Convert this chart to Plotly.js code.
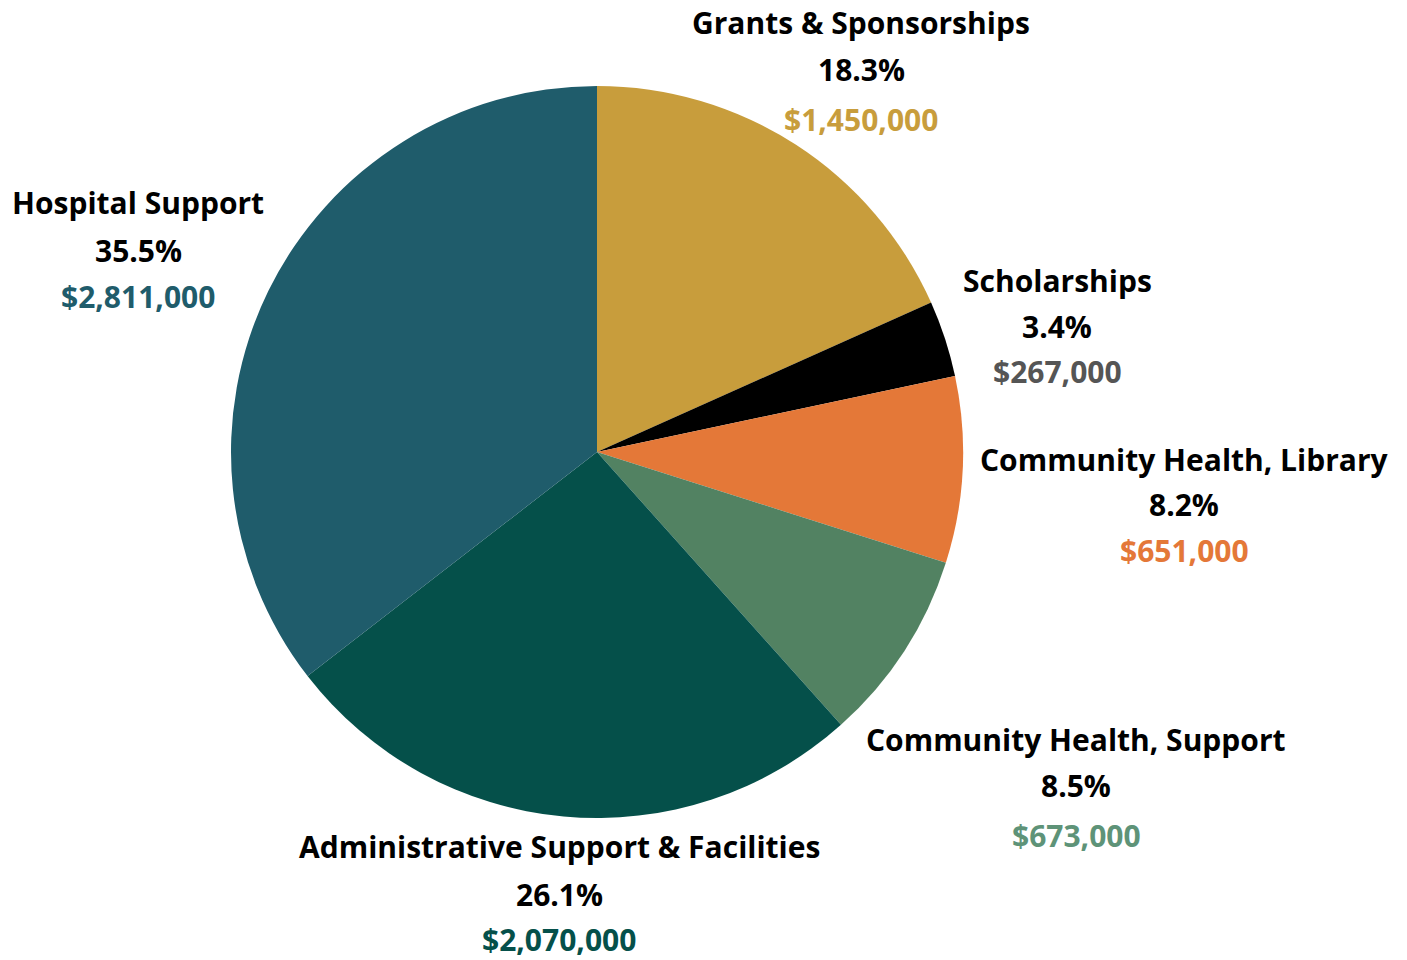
<!DOCTYPE html>
<html><head><meta charset="utf-8">
<script src="https://cdn.plot.ly/plotly-3.0.1.min.js"></script>
<style>html,body{margin:0;padding:0;background:#fff}#chart{width:1407px;height:960px}</style>
</head><body><div id="chart"></div>
<script>
const categories = ["Grants & Sponsorships","Scholarships","Community Health, Library","Community Health, Support","Administrative Support & Facilities","Hospital Support"];
const amounts = [1450000, 267000, 651000, 673000, 2070000, 2811000];
const sliceColors = ["#C89D3C","#000000","#E47838","#528262","#05504A","#1F5C6B"];
const amountColors = ["#C89D3C","#555555","#E47838","#5E9378","#05504A","#1F5C6B"];
// label block centers (pixels) — layout only
const labelPos = [[861,22],[1057,280],[1184,459],[1076,739],[559,846],[138,203]];
const lineGaps = [[0,48,97],[0,46,92],[0,45,91],[0,46,96],[0,48,93],[0,47,93]];

const W = 1407, H = 960;
const total = amounts.reduce((a,b)=>a+b,0);
const fmt = v => "$" + v.toLocaleString("en-US");
const annotations = [];
const font = {family:"'Open Sans', Lato, sans-serif", size:30, weight:700};
categories.forEach((c,i)=>{
  const [px,py] = labelPos[i];
  const lines = [
    {t:c, col:"#000000"},
    {t:(amounts[i]/total*100).toFixed(1)+"%", col:"#000000"},
    {t:fmt(amounts[i]), col:amountColors[i]}
  ];
  lines.forEach((l,j)=>{
    annotations.push({x:px/W, y:1-(py+lineGaps[i][j])/H, xref:"paper", yref:"paper",
      text:l.t, showarrow:false, xanchor:"center", yanchor:"middle",
      font:Object.assign({}, font, {color:l.col})});
  });
});

const trace = {
  type:"pie", labels:categories, values:amounts, sort:false, direction:"clockwise", rotation:0,
  marker:{colors:sliceColors, line:{width:0}}, textinfo:"none", hoverinfo:"label+value+percent",
  domain:{x:[(597-366)/W,(597+366)/W], y:[1-818/H,1-86/H]}
};
Plotly.newPlot("chart",[trace],{
  width:W, height:H, margin:{l:0,r:0,t:0,b:0}, showlegend:false,
  paper_bgcolor:"#fff", annotations:annotations, font:font
},{displayModeBar:false});
</script></body></html>
